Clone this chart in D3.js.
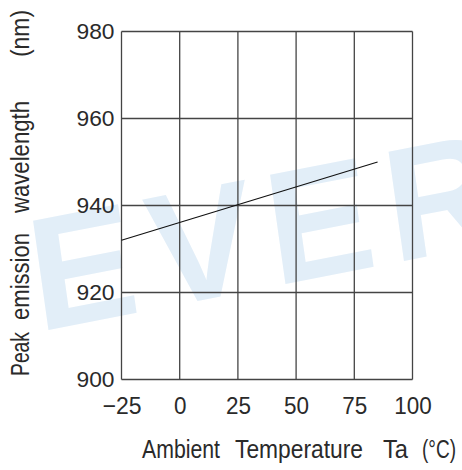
<!DOCTYPE html>
<html>
<head>
<meta charset="utf-8">
<script src="https://cdn.jsdelivr.net/npm/d3@7"></script>
<style>
  html, body { margin: 0; padding: 0; background: #fff; }
  svg { display: block; }
  text { font-family: "Liberation Sans", Arial, sans-serif; fill: #2a2a2a; }
</style>
</head>
<body>
<div id="chart"></div>
<script>
// Peak emission wavelength vs. ambient temperature
const temperature = [-25, 85];          // °C
const wavelength  = [932, 950];         // nm
const xTickValues = [-25, 0, 25, 50, 75, 100];
const yTickValues = [900, 920, 940, 960, 980];
const xTitleWords = ["Ambient", "Temperature", "Ta", "(°C)"];
const yTitleWords = ["Peak", "emission", "wavelength", "(nm)"];
const watermark = "EVER";

const width = 462, height = 470;
const margin = { left: 121.5, right: 49.5, top: 31.5, bottom: 90.5 };

const svg = d3.select("#chart").append("svg")
  .attr("width", width).attr("height", height);

const x = d3.scaleLinear().domain([-25, 100]).range([margin.left, width - margin.right]);
const y = d3.scaleLinear().domain([900, 980]).range([height - margin.bottom, margin.top]);

// faint brand mark behind the grid (runs off the right edge)
svg.append("text")
  .attr("transform", "translate(38,332) rotate(-11) skewX(-3)")
  .style("font-family", "'Liberation Sans', Arial, sans-serif")
  .style("font-weight", "bold")
  .style("font-size", "160px")
  .style("letter-spacing", "14px")
  .style("fill", "#e2eef8")
  .text(watermark);

// grid
const grid = svg.append("g").attr("stroke", "#444").attr("stroke-width", 1.3);
grid.selectAll("line.v").data(xTickValues).join("line")
  .attr("class", "v")
  .attr("x1", d => x(d)).attr("x2", d => x(d))
  .attr("y1", y(900)).attr("y2", y(980));
grid.selectAll("line.h").data(yTickValues).join("line")
  .attr("class", "h")
  .attr("x1", x(-25)).attr("x2", x(100))
  .attr("y1", d => y(d)).attr("y2", d => y(d));

// y tick labels
const yAxis = d3.axisLeft(y).tickValues(yTickValues).tickSize(0).tickPadding(7);
const gy = svg.append("g").attr("transform", `translate(${margin.left},0)`).call(yAxis);
gy.select(".domain").remove();
gy.selectAll("text").style("font-size", "22px").style("fill", "#2a2a2a")
  .style("font-family", "'Liberation Sans', Arial, sans-serif")
  .attr("textLength", 38).attr("lengthAdjust", "spacingAndGlyphs");

// x tick labels
const xAxis = d3.axisBottom(x).tickValues(xTickValues).tickSize(0).tickPadding(17)
  .tickFormat(d => d < 0 ? "\u2212" + Math.abs(d) : String(d));
const gx = svg.append("g").attr("transform", `translate(0,${height - margin.bottom})`).call(xAxis);
gx.select(".domain").remove();
gx.selectAll("text").style("font-size", "24px").style("fill", "#2a2a2a")
  .style("font-family", "'Liberation Sans', Arial, sans-serif")
  .attr("textLength", d => String(Math.abs(d)).length * 12.5 + (d < 0 ? 14 : 0))
  .attr("lengthAdjust", "spacingAndGlyphs");

// data line
const line = d3.line().x((d, i) => x(temperature[i])).y(d => y(d));
svg.append("path")
  .datum(wavelength)
  .attr("fill", "none")
  .attr("stroke", "#111")
  .attr("stroke-width", 1.1)
  .attr("d", line);

// x title: each word placed along the bottom, anchored by its left edge
// except the last, which is anchored by its right edge
const xWordSpans = [[142, 78], [235, 128], [383, 25], [456, 34]];
svg.append("g").style("font-size", "25px")
  .selectAll("text").data(xTitleWords).join("text")
  .attr("x", (d, i) => xWordSpans[i][0]).attr("y", 458)
  .attr("text-anchor", (d, i) => i === xTitleWords.length - 1 ? "end" : "start")
  .attr("textLength", (d, i) => xWordSpans[i][1])
  .attr("lengthAdjust", "spacingAndGlyphs")
  .text(d => d);

// y title: words read bottom to top
const yWordSpans = [[376, 44], [320, 87], [213, 112], [57, 47]];
svg.append("g").style("font-size", "25px")
  .selectAll("text").data(yTitleWords).join("text")
  .attr("transform", (d, i) => `translate(29,${yWordSpans[i][0]}) rotate(-90)`)
  .attr("textLength", (d, i) => yWordSpans[i][1])
  .attr("lengthAdjust", "spacingAndGlyphs")
  .text(d => d);
</script>
</body>
</html>
